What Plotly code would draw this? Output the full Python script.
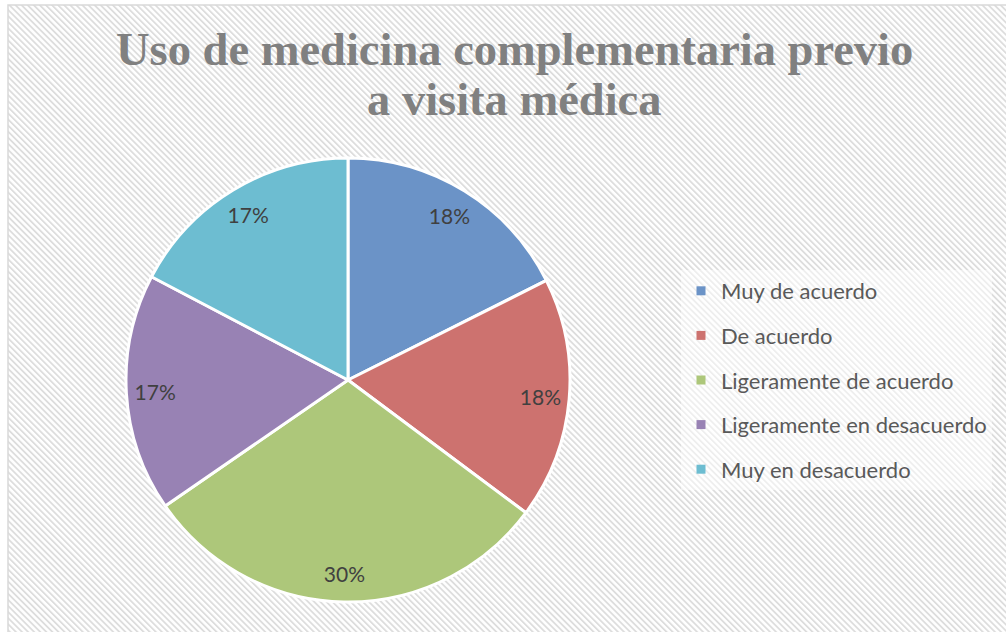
import base64
import plotly.graph_objects as go

categories = ["Muy de acuerdo", "De acuerdo", "Ligeramente de acuerdo",
              "Ligeramente en desacuerdo", "Muy en desacuerdo"]
values = [17.6, 17.6, 30.2, 17.3, 17.3]
colors = ["#6b93c7", "#cd726f", "#adc77a", "#9882b4", "#6dbdd1"]
title_lines = ["Uso de medicina complementaria previo", "a visita médica"]

W, H = 1006, 632

svg = (
    f"<svg xmlns='http://www.w3.org/2000/svg' width='{W}' height='{H}'>"
    "<defs><pattern id='p' width='4.3' height='4.3' patternUnits='userSpaceOnUse' "
    "patternTransform='rotate(-45)'>"
    "<rect width='4.3' height='4.3' fill='#ffffff'/>"
    "<rect width='1.8' height='4.3' fill='#dddddd'/></pattern></defs>"
    f"<rect width='{W}' height='{H}' fill='url(#p)'/></svg>"
)
bg_uri = "data:image/svg+xml;base64," + base64.b64encode(svg.encode()).decode()

cx, cy, r = 348, 380, 222
dom_x = [(cx - r) / W, (cx + r) / W]
dom_y = [(H - (cy + r)) / H, (H - (cy - r)) / H]

fig = go.Figure()

# main pie
fig.add_trace(go.Pie(
    labels=categories, values=values, sort=False, direction="clockwise",
    rotation=0, marker=dict(colors=colors, line=dict(color="white", width=3)),
    textinfo="none", showlegend=False, domain=dict(x=dom_x, y=dom_y),
    hoverinfo="label+percent",
))
# transparent ring used for label placement
fig.add_trace(go.Pie(
    labels=categories, values=values, sort=False, direction="clockwise",
    rotation=0, hole=0.74,
    marker=dict(colors=["rgba(0,0,0,0)"] * len(values), line=dict(width=0)),
    texttemplate="%{percent:.0%}", textposition="inside",
    insidetextorientation="horizontal",
    textfont=dict(family="Lato", size=21, color="#404040"),
    showlegend=False, domain=dict(x=dom_x, y=dom_y), hoverinfo="skip",
))

# legend entries
for i, (cat, col) in enumerate(zip(categories, colors)):
    fig.add_trace(go.Scatter(
        x=[None], y=[None], mode="markers", name=cat,
        marker=dict(symbol="square", size=9, color=col),
        legendgroup=f"g{i}", showlegend=True,
    ))

title_font = dict(family="Liberation Serif", size=46.5, color="#808080",
                  weight="bold")
title_tops = [22, 72]
annotations = [
    dict(text=line, x=514 / W, xanchor="center", y=1 - top / H,
         yanchor="top", xref="paper", yref="paper", showarrow=False,
         font=title_font)
    for line, top in zip(title_lines, title_tops)
]

fig.update_layout(
    width=W, height=H,
    margin=dict(l=0, r=0, t=0, b=0),
    paper_bgcolor="white", plot_bgcolor="rgba(0,0,0,0)",
    xaxis=dict(visible=False), yaxis=dict(visible=False),
    annotations=annotations,
    legend=dict(
        x=681 / W, xanchor="left", y=1 - 380 / H, yanchor="middle",
        bgcolor="rgba(255,255,255,0.5)", tracegroupgap=13,
        traceorder="grouped",
        font=dict(family="Lato", size=22, color="#595959"),
    ),
    images=[dict(
        source=bg_uri, xref="paper", yref="paper", x=8 / W, y=1 - 5 / H,
        sizex=1, sizey=1, sizing="stretch", xanchor="left", yanchor="top",
        layer="below",
    )],
    shapes=[dict(
        type="rect", xref="paper", yref="paper",
        x0=8 / W, x1=1.05, y0=-0.05, y1=1 - 5 / H,
        line=dict(color="#d9d9d9", width=1.5), fillcolor="rgba(0,0,0,0)",
    )],
)

fig.write_html("out.html", config={"displayModeBar": False},
               post_script="document.body.style.margin='0';"
                           "document.body.style.padding='0';")
